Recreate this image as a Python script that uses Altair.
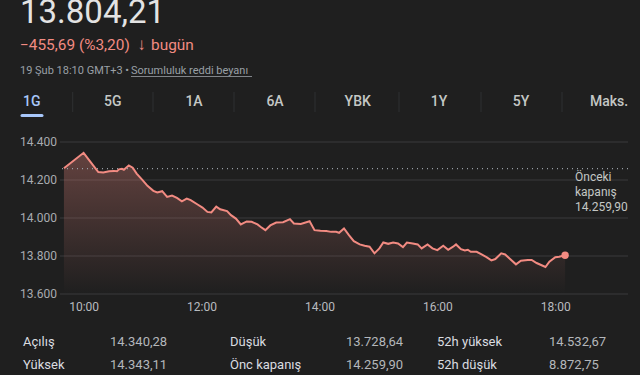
import altair as alt
import pandas as pd

# ---------------- data ----------------
DAY = "2026-02-19"
TIMES = ["09:40", "10:00", "10:07", "10:15", "10:20", "10:26", "10:31", "10:34", "10:36", "10:39",
         "10:41", "10:46", "10:50", "10:54", "11:00", "11:05", "11:11", "11:15", "11:20", "11:25",
         "11:30", "11:35", "11:40", "11:45", "11:49", "11:56", "12:01", "12:06", "12:10", "12:15",
         "12:19", "12:26", "12:30", "12:35", "12:40", "12:46", "12:51", "12:57", "13:00", "13:05",
         "13:10", "13:16", "13:23", "13:30", "13:34", "13:41", "13:50", "13:55", "14:01", "14:07",
         "14:12", "14:17", "14:20", "14:25", "14:30", "14:35", "14:41", "14:46", "14:51", "14:56",
         "15:01", "15:05", "15:10", "15:15", "15:20", "15:25", "15:29", "15:35", "15:40", "15:44",
         "15:50", "15:55", "16:00", "16:06", "16:11", "16:16", "16:19", "16:24", "16:28", "16:31",
         "16:34", "16:40", "16:45", "16:50", "16:55", "16:59", "17:05", "17:09", "17:14", "17:20",
         "17:25", "17:32", "17:36", "17:41", "17:45", "17:50", "17:54", "18:00", "18:04", "18:10"]
VALUES = [14262, 14343, 14295, 14242, 14239, 14246, 14248, 14246, 14256, 14259,
          14254, 14277, 14265, 14234, 14199, 14169, 14143, 14134, 14141, 14111,
          14118, 14106, 14088, 14102, 14094, 14071, 14055, 14032, 14029, 14060,
          14046, 14036, 14015, 13997, 13966, 13982, 13980, 13966, 13954, 13936,
          13961, 13976, 13978, 13994, 13971, 13969, 13983, 13936, 13933, 13931,
          13927, 13927, 13922, 13945, 13910, 13878, 13861, 13854, 13849, 13814,
          13840, 13871, 13864, 13871, 13866, 13847, 13871, 13866, 13861, 13840,
          13861, 13840, 13831, 13854, 13833, 13849, 13861, 13836, 13829, 13833,
          13822, 13822, 13808, 13794, 13777, 13784, 13814, 13808, 13784, 13756,
          13775, 13779, 13779, 13763, 13754, 13742, 13770, 13794, 13796, 13804.21]
PREV_CLOSE = 14259.90
Y_TICKS = [13600, 13800, 14000, 14200, 14400]
Y_TICK_LABELS = ["13.600", "13.800", "14.000", "14.200", "14.400"]
X_TICK_HOURS = [10, 12, 14, 16, 18]

PRICE_TEXT = "13.804,21"
CHANGE_TEXT = "\u2212455,69 (%3,20)"
ARROW_TEXT = "\u2193"
TODAY_TEXT = "bugün"
DATE_TEXT = "19 Şub 18:10 GMT+3 •"
DISCLAIMER_TEXT = "Sorumluluk reddi beyanı"
TABS = ["1G", "5G", "1A", "6A", "YBK", "1Y", "5Y", "Maks."]
PREV_LABEL = ["Önceki", "kapanış", "14.259,90"]
STAT_LABELS = [["Açılış", "Yüksek"], ["Düşük", "Önc kapanış"], ["52h yüksek", "52h düşük"]]
STAT_VALUES = [["14.340,28", "14.343,11"], ["13.728,64", "14.259,90"], ["14.532,67", "8.872,75"]]

# ---------------- layout / style ----------------
PL, PT, PR, PB = 60, 142, 12, 81
W, H = 640 - PL - PR, 375 - PT - PB
BG = "#1f1f1f"
RED = "#f28b82"
FONT = "Roboto"

df = pd.DataFrame({"t": [f"{DAY}T{t}:00" for t in TIMES], "v": VALUES})
ticks_df = pd.DataFrame({"v": Y_TICKS, "label": Y_TICK_LABELS})


def dt(h, m=0):
    return alt.DateTime(year=2026, month=2, date=19, hours=h, minutes=m)


x_enc = alt.X(
    "t:T",
    scale=alt.Scale(domain=[dt(9, 36), dt(19, 14)]),
    axis=alt.Axis(values=[dt(h) for h in X_TICK_HOURS], format="%H:%M", title=None,
                  grid=False, domain=False, ticks=False, tickSize=0, labelPadding=7,
                  labelColor="#b8bbbf", labelFontSize=12, labelFont=FONT, labelFlush=False,
                  labelOverlap=False),
)
y_enc = alt.Y("v:Q", scale=alt.Scale(domain=[13600, 14400], zero=False, nice=False), axis=None)

# gridlines and y labels drawn from the tick table through the y scale
grid = alt.Chart(ticks_df).mark_rule(color="#3a3b3d", strokeWidth=1).encode(y=y_enc)
ylab = alt.Chart(ticks_df).mark_text(
    align="left", baseline="middle", fontSize=12, color="#a8abb0", font=FONT
).encode(y=alt.Y("v:Q", axis=None), x=alt.value(20 - PL), text="label:N")

base = alt.Chart(df)

area = base.mark_area(
    color=alt.Gradient(
        gradient="linear",
        stops=[alt.GradientStop(color="rgba(242,139,130,0.32)", offset=0),
               alt.GradientStop(color="rgba(242,139,130,0.0)", offset=1)],
        x1=0, x2=0, y1=0, y2=1,
    )
).encode(x=x_enc, y=alt.Y("v:Q", axis=None), y2=alt.Y2(datum=13600))

line = base.mark_line(color=RED, strokeWidth=2).encode(x="t:T", y=alt.Y("v:Q", axis=None))

last = alt.Chart(df.tail(1)).mark_circle(color=RED, size=55, opacity=1).encode(
    x="t:T", y=alt.Y("v:Q", axis=None))

ONE = alt.Data(values=[{}])

prev_rule = alt.Chart(ONE).mark_rule(color="#9aa0a6", strokeWidth=1.3, strokeDash=[1, 4]).encode(
    y=alt.Y(datum=PREV_CLOSE, type="quantitative", axis=None)
)


def txt(text, x, y, size, color, align="left", baseline="alphabetic", weight="normal"):
    return alt.Chart(ONE).mark_text(
        text=text, align=align, baseline=baseline, fontSize=size, color=color,
        font=FONT, fontWeight=weight,
    ).encode(x=alt.value(x - PL), y=alt.value(y - PT))


def hrule(x1, x2, y, color, width=1, cap="butt"):
    return alt.Chart(ONE).mark_rule(color=color, strokeWidth=width, strokeCap=cap).encode(
        x=alt.value(x1 - PL), x2=alt.value(x2 - PL), y=alt.value(y - PT))


def vrule(x, y1, y2, color, width=1):
    return alt.Chart(ONE).mark_rule(color=color, strokeWidth=width).encode(
        x=alt.value(x - PL), y=alt.value(y1 - PT), y2=alt.value(y2 - PT))


layers = [grid, ylab, area, prev_rule, line, last]

# header
layers.append(txt(PRICE_TEXT, 20, 23, 33, "#e3e3e3"))
layers.append(txt(CHANGE_TEXT, 20, 50, 15.4, RED))
layers.append(txt(ARROW_TEXT, 141.5, 50, 17, RED, align="center", weight="bold"))
layers.append(txt(TODAY_TEXT, 151, 50, 15.4, RED))
layers.append(txt(DATE_TEXT, 20, 74, 11, "#9aa0a6"))
layers.append(txt(DISCLAIMER_TEXT, 131, 74, 11, "#9aa0a6"))
layers.append(hrule(131, 252, 76.5, "#9aa0a6", 0.8))

# tabs
TAB_X = [31.7, 112.7, 194, 275, 357.7, 439, 521, 609]
SEP_X = [72.7, 153, 234, 315, 399, 481, 562]
for i, (t, x) in enumerate(zip(TABS, TAB_X)):
    layers.append(txt(t, x, 102, 14, "#a8c7fa" if i == 0 else "#c4c7c5", align="center",
                      baseline="middle", weight=500))
for x in SEP_X:
    layers.append(vrule(x, 92, 112, "#2f3032"))
layers.append(hrule(22, 42, 115.5, "#a8c7fa", 3, "round"))

# previous close label
for j, s in enumerate(PREV_LABEL):
    layers.append(txt(s, 575, 176.7 + 15 * j, 12, "#c4c7c5", baseline="middle"))

# stats table
LAB_X = [23, 230, 437]
VAL_X = [110, 346, 549]
ROW_Y = [342.3, 364.5]
for c in range(3):
    for r in range(2):
        layers.append(txt(STAT_LABELS[c][r], LAB_X[c], ROW_Y[r], 13, "#dadce0", baseline="middle"))
        layers.append(txt(STAT_VALUES[c][r], VAL_X[c], ROW_Y[r], 13, "#b4b7bb", baseline="middle"))

chart = alt.layer(*layers).properties(
    width=W, height=H,
    autosize=alt.AutoSizeParams(type="none"),
    padding={"left": PL, "top": PT, "right": PR, "bottom": PB},
    background=BG,
).configure_view(stroke="transparent")

chart.save("out.html", embed_options={"renderer": "svg", "actions": False})
